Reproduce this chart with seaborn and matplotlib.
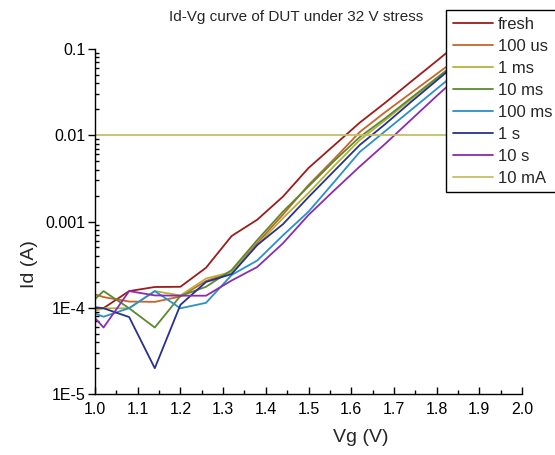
import numpy as np
import pandas as pd
import seaborn as sns
import matplotlib
matplotlib.use("Agg")
import matplotlib.pyplot as plt
from matplotlib.ticker import FixedLocator, FixedFormatter, MultipleLocator, LogLocator, NullFormatter

# ---- data ----
vg = [0.96, 1.02, 1.08, 1.14, 1.20, 1.26, 1.32, 1.38, 1.44, 1.50, 1.56, 1.62,
      1.68, 1.74, 1.80, 1.86, 1.92, 1.98]

id_fresh = [9.4e-5, 9.9e-5, 1.56e-4, 1.74e-4, 1.75e-4, 2.91e-4, 6.79e-4, 1.05e-3,
            1.94e-3, 4.17e-3, 7.64e-3, 1.40e-2, 2.39e-2, 4.18e-2, 7.26e-2, 0.127, 0.217, 0.36]
id_100us = [1.65e-4, 1.33e-4, 1.18e-4, 1.17e-4, 1.35e-4, 2.04e-4, 2.6e-4, 5.63e-4,
            1.20e-3, 2.65e-3, 5.3e-3, 1.09e-2, 1.86e-2, 3.09e-2, 5.13e-2, 8.5e-2, 0.142, 0.235]
id_1ms = [8.0e-5, 9.86e-5, 9.86e-5, 1.56e-4, 1.39e-4, 2.18e-4, 2.6e-4, 5.34e-4,
          1.09e-3, 2.14e-3, 4.40e-3, 8.8e-3, 1.50e-2, 2.60e-2, 4.49e-2, 7.76e-2, 0.134, 0.229]
id_10ms = [8.24e-5, 1.56e-4, 9.86e-5, 5.9e-5, 1.37e-4, 1.75e-4, 2.74e-4, 6.1e-4,
           1.30e-3, 2.55e-3, 5.03e-3, 9.54e-3, 1.58e-2, 2.70e-2, 4.61e-2, 7.87e-2, 0.134, 0.229]
id_100ms = [1.02e-4, 7.87e-5, 9.9e-5, 1.56e-4, 9.86e-5, 1.14e-4, 2.40e-4, 3.53e-4,
            6.89e-4, 1.30e-3, 2.87e-3, 6.40e-3, 1.12e-2, 1.96e-2, 3.44e-2, 6.02e-2, 0.105, 0.185]
id_1s = [1.08e-4, 9.86e-5, 7.8e-5, 1.99e-5, 1.08e-4, 1.99e-4, 2.46e-4, 5.34e-4,
         9.29e-4, 1.92e-3, 3.85e-3, 7.71e-3, 1.35e-2, 2.43e-2, 4.31e-2, 7.66e-2, 0.134, 0.235]
id_10s = [1.26e-4, 5.9e-5, 1.56e-4, 1.39e-4, 1.38e-4, 1.38e-4, 2.07e-4, 2.97e-4,
          5.58e-4, 1.19e-3, 2.29e-3, 4.34e-3, 7.98e-3, 1.51e-2, 2.85e-2, 5.27e-2, 9.7e-2, 0.18]
compliance = 0.01  # 10 mA

series_names = ["fresh", "100 us", "1 ms", "10 ms", "100 ms", "1 s", "10 s", "10 mA"]
series_values = [id_fresh, id_100us, id_1ms, id_10ms, id_100ms, id_1s, id_10s,
                 [compliance] * len(vg)]
colors = ["#9c1c1c", "#c8642a", "#b5b23a", "#5b8a2e", "#2a90c8", "#27318f", "#8b2bb0", "#c6bd68"]

xticks = [1.0, 1.1, 1.2, 1.3, 1.4, 1.5, 1.6, 1.7, 1.8, 1.9, 2.0]
yticks = [1e-5, 1e-4, 1e-3, 1e-2, 1e-1]
ytick_labels = ["1E-5", "1E-4", "0.001", "0.01", "0.1"]

rows = []
for name, vals in zip(series_names, series_values):
    for x, y in zip(vg, vals):
        rows.append({"Vg": x, "Id": y, "series": name})
df = pd.DataFrame(rows)

# ---- style ----
sns.set_style("ticks")
plt.rcParams["font.family"] = ["Liberation Sans", "DejaVu Sans"]

fig = plt.figure(figsize=(5.55, 4.55), dpi=100)
W, H = 555, 455
ax = fig.add_axes([95 / W, 1 - 394 / H, (522 - 95) / W, (394 - 49) / H])

sns.lineplot(data=df, x="Vg", y="Id", hue="series", hue_order=series_names,
             palette=colors, estimator=None, sort=False, linewidth=1.3, ax=ax)

for ln in ax.get_lines():
    if ln.get_label() == "10 mA":
        ln.set_zorder(1.5)
        ln.set_linewidth(1.5)

ax.set_yscale("log")
ax.set_xlim(1.0, 2.0)
ax.set_ylim(1e-5, 0.1)

ax.xaxis.set_major_locator(FixedLocator(xticks))
ax.xaxis.set_major_formatter(FixedFormatter([f"{t:.1f}" for t in xticks]))
ax.xaxis.set_minor_locator(MultipleLocator(0.05))
ax.yaxis.set_major_locator(FixedLocator(yticks))
ax.yaxis.set_major_formatter(FixedFormatter(ytick_labels))
ax.yaxis.set_minor_locator(LogLocator(base=10, subs=np.arange(2, 10)))
ax.yaxis.set_minor_formatter(NullFormatter())

for s in ["top", "right"]:
    ax.spines[s].set_visible(False)
for s in ["left", "bottom"]:
    ax.spines[s].set_color("black")
    ax.spines[s].set_linewidth(1.0)

ax.tick_params(axis="x", which="major", direction="in", length=5, width=1, labelsize=11.5, pad=6, colors="black")
ax.tick_params(axis="x", which="minor", direction="in", length=3, width=1, colors="black")
ax.tick_params(axis="y", which="major", direction="out", length=5, width=1, labelsize=11.5, pad=2, colors="black")
ax.tick_params(axis="y", which="minor", direction="in", length=3, width=1, colors="black")

ax.set_xlabel("")
ax.set_ylabel("")
fig.text(361 / W, 1 - 438 / H, "Vg (V)", ha="center", va="center", fontsize=14)
fig.text(30 / W, 1 - 264 / H, "Id (A)", ha="center", va="center", fontsize=14, rotation=90)
fig.text(296 / W, 1 - 17 / H, "Id-Vg curve of DUT under 32 V stress", ha="center", va="center", fontsize=11)

handles, labels = ax.get_legend_handles_labels()
leg = ax.legend(handles, labels, loc="upper left", bbox_to_anchor=(446 / W, 1 - 10 / H),
                bbox_transform=fig.transFigure, borderaxespad=0, fontsize=12,
                handlelength=2.4, handletextpad=0.3, labelspacing=0.42, borderpad=0.4,
                frameon=True, fancybox=False, framealpha=1.0, edgecolor="black")
leg.get_frame().set_linewidth(1.0)
for lh in leg.get_lines():
    lh.set_linewidth(1.3)

fig.savefig("out.png", dpi=100)
